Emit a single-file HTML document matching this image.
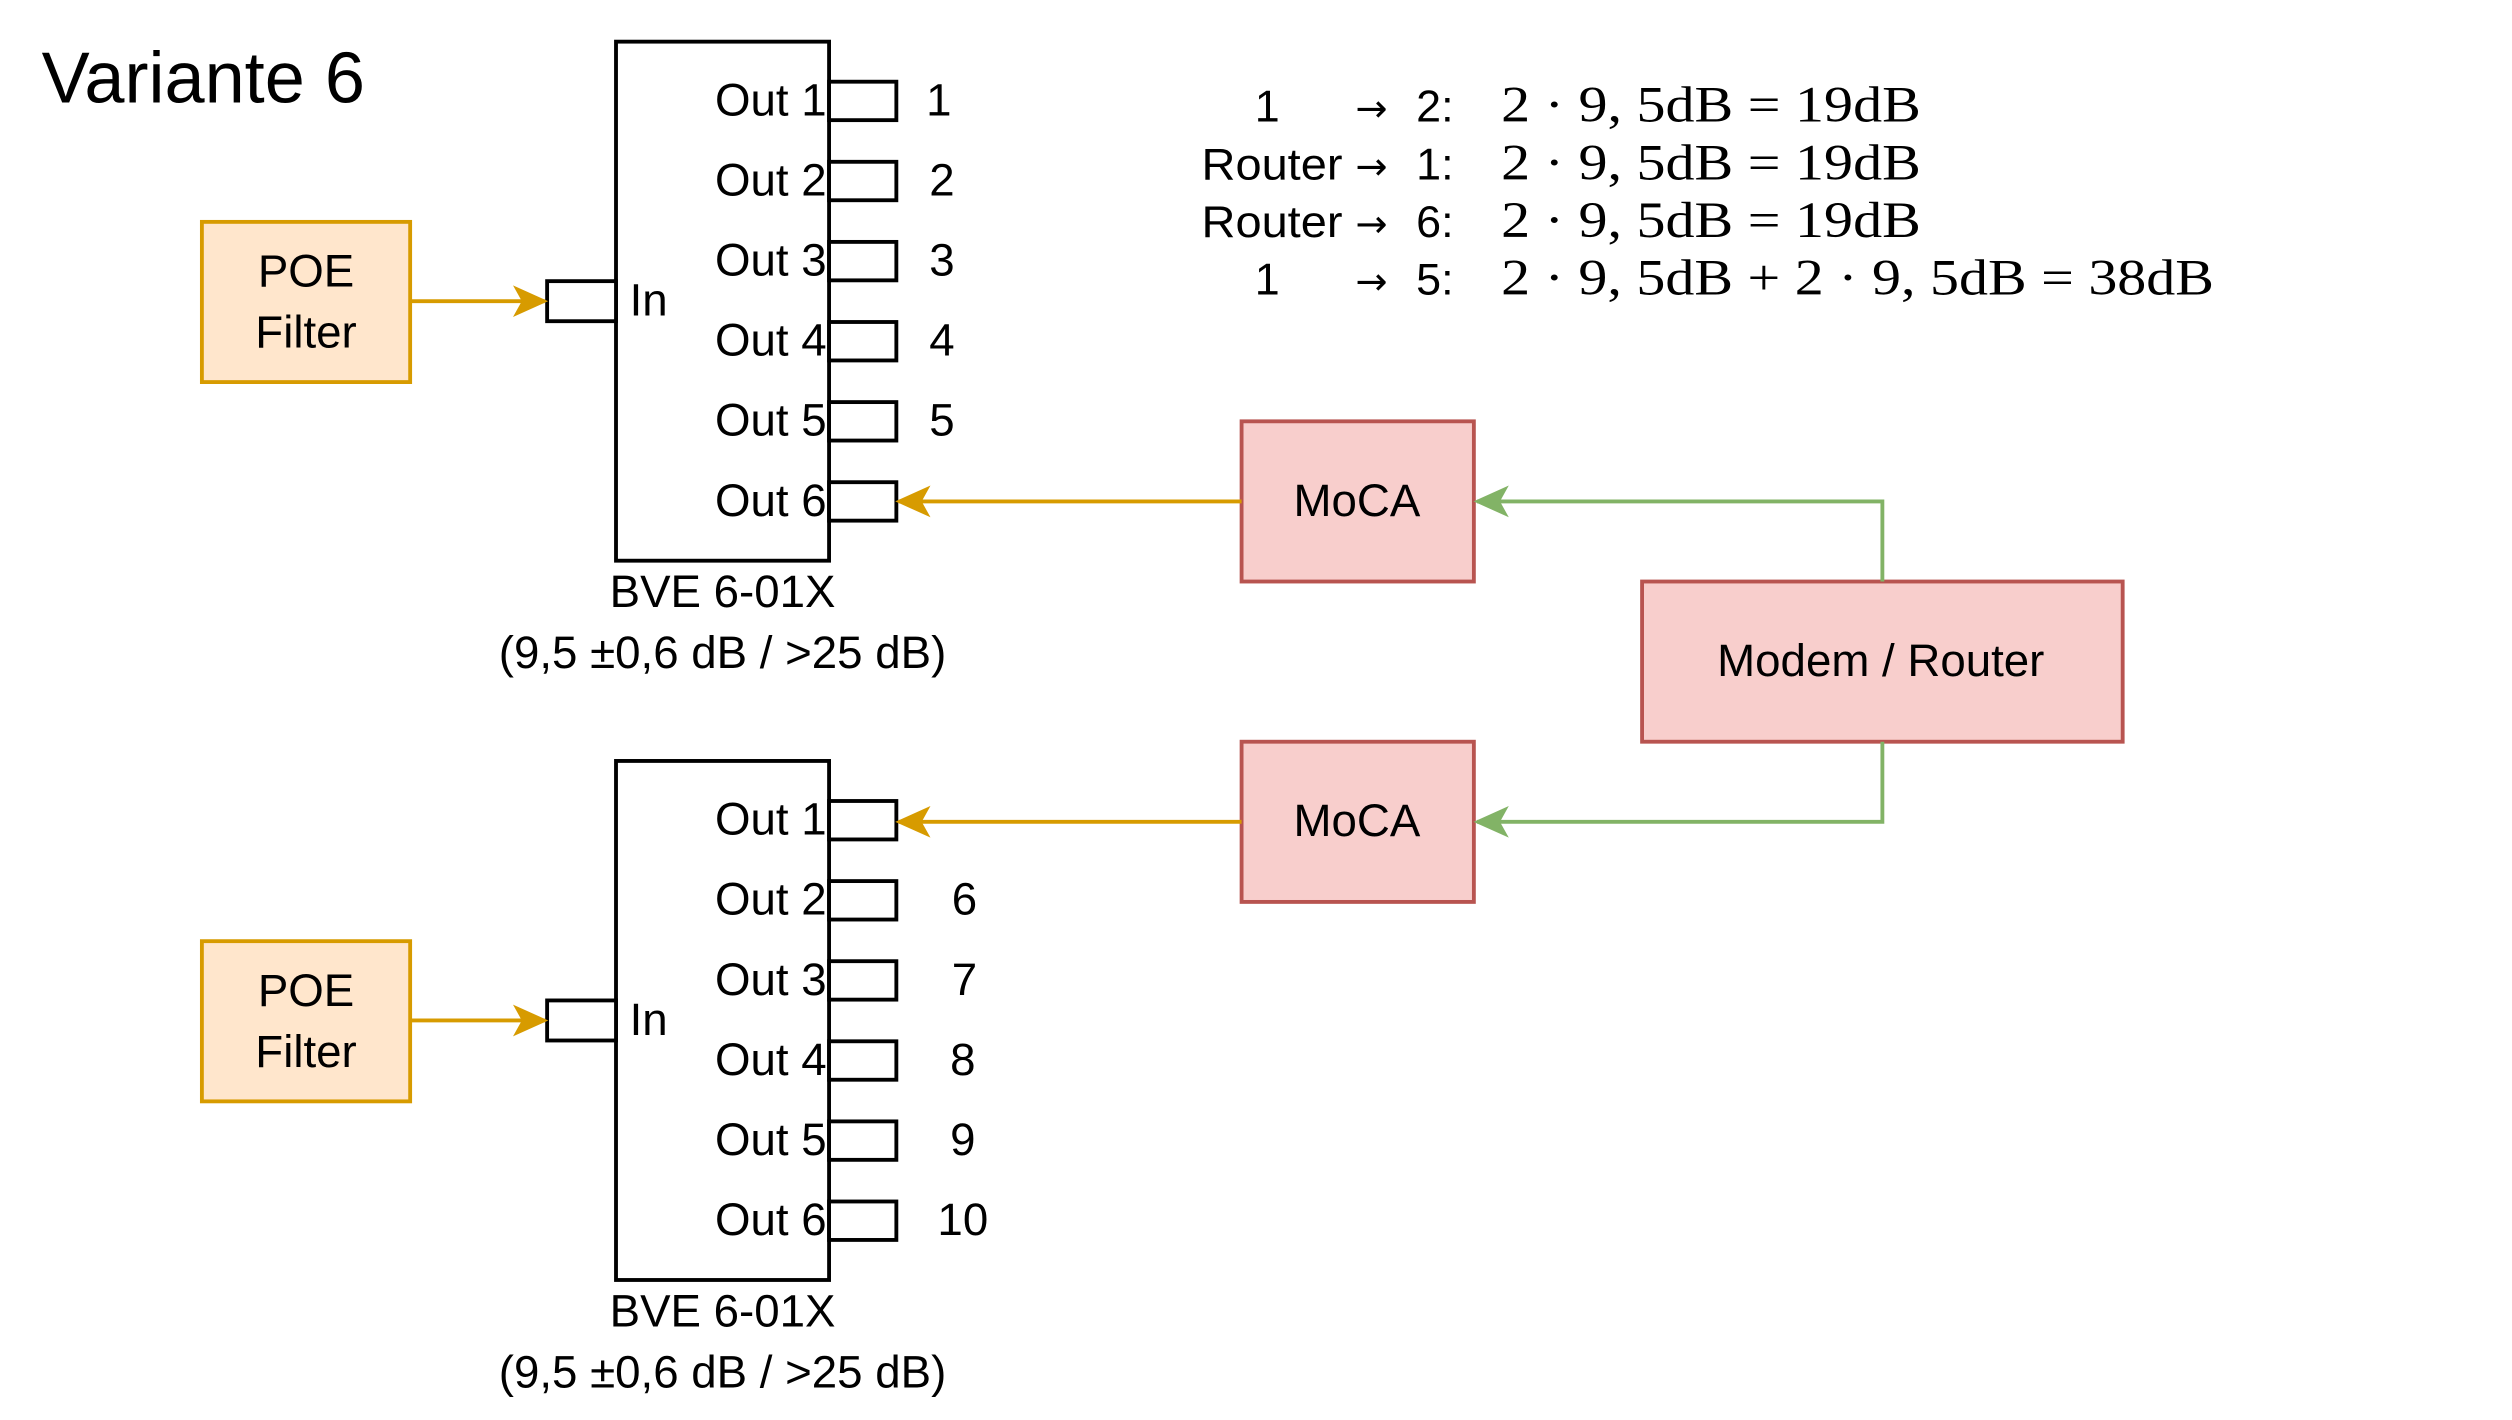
<!DOCTYPE html>
<html><head><meta charset="utf-8"><style>html,body{margin:0;padding:0;background:#fff;}svg{display:block;}</style></head>
<body>
<svg width="2512" height="1420" viewBox="0 0 1568 886.4" xmlns="http://www.w3.org/2000/svg">
<defs>
<marker id="ao" viewBox="0 0 20 20" refX="18" refY="10" markerWidth="22" markerHeight="22" markerUnits="userSpaceOnUse" orient="auto"><path d="M0,1 L20,10 L0,19 L5,10 Z" fill="#d79b00"/></marker>
<marker id="ag" viewBox="0 0 20 20" refX="18" refY="10" markerWidth="22" markerHeight="22" markerUnits="userSpaceOnUse" orient="auto"><path d="M0,1 L20,10 L0,19 L5,10 Z" fill="#82b366"/></marker>
</defs>
<g font-family="Liberation Sans, sans-serif" fill="#000">
<text x="26" y="64" font-size="45">Variante 6</text>
</g>

<g id="blk" font-family="Liberation Sans, sans-serif" font-size="28.5">
<rect x="384.5" y="26" width="133" height="324" fill="#fff" stroke="#000" stroke-width="2.4"/>
<rect x="517.5" y="51" width="42" height="24" fill="#fff" stroke="#000" stroke-width="2.4"/>
<rect x="517.5" y="101" width="42" height="24" fill="#fff" stroke="#000" stroke-width="2.4"/>
<rect x="517.5" y="151" width="42" height="24" fill="#fff" stroke="#000" stroke-width="2.4"/>
<rect x="517.5" y="201" width="42" height="24" fill="#fff" stroke="#000" stroke-width="2.4"/>
<rect x="517.5" y="251" width="42" height="24" fill="#fff" stroke="#000" stroke-width="2.4"/>
<rect x="517.5" y="301" width="42" height="24" fill="#fff" stroke="#000" stroke-width="2.4"/>
<rect x="341.5" y="175.5" width="43" height="25" fill="#fff" stroke="#000" stroke-width="2.4"/>
<text x="516" y="72" text-anchor="end">Out 1</text>
<text x="516" y="122" text-anchor="end">Out 2</text>
<text x="516" y="172" text-anchor="end">Out 3</text>
<text x="516" y="222" text-anchor="end">Out 4</text>
<text x="516" y="272" text-anchor="end">Out 5</text>
<text x="516" y="322" text-anchor="end">Out 6</text>
<text x="393" y="197">In</text>
<text x="451" y="379" text-anchor="middle">BVE 6-01X</text>
<text x="451" y="417" text-anchor="middle">(9,5 ±0,6 dB / &gt;25 dB)</text>
<rect x="126" y="138.5" width="130" height="100" fill="#ffe6cc" stroke="#d79b00" stroke-width="2.4"/>
<text x="191" y="179" text-anchor="middle">POE</text>
<text x="191" y="217" text-anchor="middle">Filter</text>
<line x1="256" y1="188" x2="340" y2="188" stroke="#d79b00" stroke-width="2.4" marker-end="url(#ao)"/>
</g>
<use href="#blk" y="449"/>

<g font-family="Liberation Sans, sans-serif" font-size="28.5" text-anchor="middle">
<text x="586" y="72">1</text><text x="588" y="122">2</text><text x="588" y="172">3</text><text x="588" y="222">4</text><text x="588" y="272">5</text>
<text x="602" y="571">6</text><text x="602" y="621">7</text><text x="601" y="671">8</text><text x="601" y="721">9</text><text x="601" y="771">10</text>
</g>

<g font-family="Liberation Sans, sans-serif" font-size="28.5" text-anchor="middle">
<rect x="775" y="263" width="145" height="100" fill="#f8cecc" stroke="#b85450" stroke-width="2.4"/>
<text x="847" y="322">MoCA</text>
<rect x="775" y="463" width="145" height="100" fill="#f8cecc" stroke="#b85450" stroke-width="2.4"/>
<text x="847" y="522">MoCA</text>
<rect x="1025" y="363" width="300" height="100" fill="#f8cecc" stroke="#b85450" stroke-width="2.4"/>
<text x="1174" y="422">Modem / Router</text>
</g>
<line x1="775" y1="313" x2="561" y2="313" stroke="#d79b00" stroke-width="2.4" marker-end="url(#ao)"/>
<line x1="775" y1="513" x2="561" y2="513" stroke="#d79b00" stroke-width="2.4" marker-end="url(#ao)"/>
<polyline points="1175,363 1175,313 922,313" fill="none" stroke="#82b366" stroke-width="2.4" marker-end="url(#ag)"/>
<polyline points="1175,463 1175,513 922,513" fill="none" stroke="#82b366" stroke-width="2.4" marker-end="url(#ag)"/>

<g font-family="Liberation Sans, sans-serif" font-size="28">
<text x="791" y="76" text-anchor="middle">1</text>
<text x="750" y="112" textLength="88" lengthAdjust="spacingAndGlyphs">Router</text>
<text x="750" y="148" textLength="88" lengthAdjust="spacingAndGlyphs">Router</text>
<text x="791" y="184" text-anchor="middle">1</text>
</g>
<g font-family="DejaVu Sans, sans-serif" font-size="24">
<text x="846" y="76">→</text><text x="846" y="112">→</text><text x="846" y="148">→</text><text x="846" y="184">→</text>
</g>
<g font-family="Liberation Sans, sans-serif" font-size="28">
<text x="884" y="76">2:</text><text x="884" y="112">1:</text><text x="884" y="148">6:</text><text x="884" y="184">5:</text>
</g>
<g font-family="Liberation Serif, serif" font-size="32">
<text x="937" y="76" textLength="262" lengthAdjust="spacingAndGlyphs">2 · 9, 5dB = 19dB</text>
<text x="937" y="112" textLength="262" lengthAdjust="spacingAndGlyphs">2 · 9, 5dB = 19dB</text>
<text x="937" y="148" textLength="262" lengthAdjust="spacingAndGlyphs">2 · 9, 5dB = 19dB</text>
<text x="937" y="184" textLength="445" lengthAdjust="spacingAndGlyphs">2 · 9, 5dB + 2 · 9, 5dB = 38dB</text>
</g>
</svg>
</body></html>
